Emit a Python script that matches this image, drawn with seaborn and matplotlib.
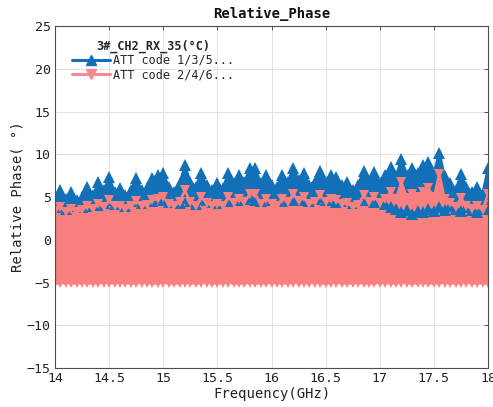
import numpy as np
import pandas as pd
import matplotlib
matplotlib.use("Agg")
import matplotlib.pyplot as plt
import seaborn as sns
from matplotlib.lines import Line2D

# ---------------- data ----------------
freq = [round(14 + 0.05 * k, 2) for k in range(81)]  # 14.00 ... 18.00 GHz

blue_hi = [5.0, 5.8, 4.8, 5.6, 4.6, 5.0, 6.2, 5.2, 6.7, 5.8,
           7.3, 5.6, 6.0, 5.2, 5.8, 7.2, 5.8, 6.0, 7.2, 7.6,
           7.8, 6.2, 5.6, 6.6, 8.7, 6.8, 6.2, 7.8, 6.4, 5.8,
           6.6, 6.0, 7.8, 6.6, 7.6, 6.8, 8.4, 8.4, 6.6, 7.6,
           6.4, 6.2, 7.6, 6.8, 8.4, 7.0, 7.8, 6.4, 6.8, 8.1,
           6.8, 7.6, 7.3, 6.4, 6.7, 5.8, 6.4, 8.1, 6.8, 7.9,
           6.6, 7.6, 8.5, 7.4, 9.5, 7.6, 8.4, 7.8, 8.7, 9.1,
           7.8, 10.2, 7.4, 6.6, 5.8, 7.7, 6.2, 5.6, 6.2, 5.4,
           8.4]

blue_lo = [3.8, 4.0, 3.6, 3.9, 4.2, 3.8, 4.0, 4.4, 4.1, 4.3,
           4.6, 4.2, 4.4, 4.0, 4.5, 4.6, 4.3, 4.8, 4.5, 4.9,
           4.6, 4.4, 4.7, 4.3, 4.9, 4.5, 4.2, 4.8, 4.6, 4.4,
           4.3, 4.7, 4.5, 4.9, 4.6, 4.8, 5.0, 4.7, 4.5, 4.9,
           4.6, 4.8, 4.5, 5.0, 4.7, 4.9, 4.6, 4.5, 4.8, 5.0,
           4.7, 4.6, 4.4, 4.8, 4.5, 4.3, 4.6, 4.9, 4.7, 4.4,
           4.6, 4.2, 3.8, 3.6, 3.2, 3.5, 3.0, 3.4, 3.2, 3.6,
           3.4, 3.8, 3.5, 4.0, 3.6, 3.4, 3.8, 3.5, 3.2, 3.6,
           3.8]

pink_hi = [3.4, 3.8, 3.2, 3.6, 3.3, 3.5, 4.0, 3.6, 4.2, 3.8,
           4.6, 3.9, 4.0, 3.6, 3.9, 4.5, 4.0, 4.1, 4.6, 4.8,
           5.0, 4.2, 3.9, 4.4, 5.8, 4.4, 4.0, 5.0, 4.3, 4.0,
           4.2, 4.0, 5.0, 4.3, 4.8, 4.4, 5.4, 5.4, 4.2, 4.8,
           4.2, 4.0, 4.8, 4.4, 5.4, 4.5, 5.0, 4.2, 4.4, 5.2,
           4.4, 4.8, 4.6, 4.2, 4.3, 3.8, 4.1, 5.2, 4.4, 5.0,
           4.3, 4.8, 5.6, 4.8, 6.8, 4.9, 5.4, 5.0, 5.6, 6.0,
           5.0, 7.7, 4.8, 4.3, 3.8, 4.9, 4.0, 3.6, 4.0, 3.5,
           5.4]

pink_lo = [-5.1, -5.1, -5.0, -5.1, -5.1, -5.0, -5.1, -5.1, -5.1, -5.0,
           -5.1, -5.1, -5.0, -5.1, -5.1, -5.1, -5.0, -5.1, -5.1, -5.1,
           -5.0, -5.1, -5.1, -5.1, -5.0, -5.1, -5.1, -5.1, -5.0, -5.1,
           -5.1, -5.1, -5.0, -5.1, -5.1, -5.1, -5.0, -5.1, -5.1, -5.1,
           -5.0, -5.1, -5.1, -5.1, -5.0, -5.1, -5.1, -5.1, -5.0, -5.1,
           -5.1, -5.1, -5.0, -5.1, -5.1, -5.1, -5.0, -5.1, -5.1, -5.1,
           -5.0, -5.1, -5.1, -5.1, -5.0, -5.1, -5.1, -5.1, -5.0, -5.1,
           -5.1, -5.1, -5.0, -5.1, -5.1, -5.1, -5.0, -5.1, -5.1, -5.1,
           -5.1]

legend_title = "3#_CH2_RX_35(°C)"
series_labels = ["ATT code 1/3/5...", "ATT code 2/4/6..."]
xticks = [14, 14.5, 15, 15.5, 16, 16.5, 17, 17.5, 18]
xtick_labels = ["14", "14.5", "15", "15.5", "16", "16.5", "17", "17.5", "18"]
yticks = [-15, -10, -5, 0, 5, 10, 15, 20, 25]

# ---------------- tables ----------------
blue_df = pd.DataFrame({
    "freq": freq * 2,
    "phase": blue_hi + blue_lo,
    "unit": ["hi"] * len(freq) + ["lo"] * len(freq),
})
pink_df = pd.DataFrame({
    "freq": freq * 2,
    "phase": pink_hi + pink_lo,
    "unit": ["hi"] * len(freq) + ["lo"] * len(freq),
})

# ---------------- styling ----------------
sns.set_style("white")
plt.rcParams["font.family"] = ["DejaVu Sans Mono", "DejaVu Sans"]

BLUE = "#1170B8"
PINK = "#FA8080"
PINK_LEG = "#F48A8E"

fig = plt.figure(figsize=(4.93, 4.07), dpi=100)
ax = fig.add_axes([0.1116, 0.0958, 0.8783, 0.8403])

# blue group: band + lines
sns.lineplot(data=blue_df, x="freq", y="phase", errorbar=("pi", 100),
             err_kws={"alpha": 1, "linewidth": 0}, color=BLUE, linewidth=0,
             ax=ax, legend=False)
sns.lineplot(data=blue_df, x="freq", y="phase", units="unit", estimator=None,
             color=BLUE, linewidth=1.8, marker="^", markersize=8,
             markeredgewidth=0, ax=ax, legend=False)

# pink group: band + lines
sns.lineplot(data=pink_df, x="freq", y="phase", errorbar=("pi", 100),
             err_kws={"alpha": 1, "linewidth": 0}, color=PINK, linewidth=0,
             ax=ax, legend=False)
sns.lineplot(data=pink_df, x="freq", y="phase", units="unit", estimator=None,
             color=PINK, linewidth=1.8, marker="v", markersize=7.5,
             markeredgewidth=0, ax=ax, legend=False)

ax.set_xlim(14, 18)
ax.set_ylim(-15, 25)
ax.set_xticks(xticks)
ax.set_xticklabels(xtick_labels)
ax.set_yticks(yticks)
ax.grid(True, color="#E3E3E3", linewidth=0.7)
ax.set_axisbelow(True)
for s in ax.spines.values():
    s.set_color("#4D4D4D")
    s.set_linewidth(0.8)
ax.tick_params(direction="in", length=3, width=0.7, color="#4D4D4D",
               labelsize=9.5, labelcolor="#222222", top=True, right=True,
               pad=3)

ax.set_xlabel("Frequency(GHz)", fontsize=10, color="#222222", labelpad=1)
ax.set_ylabel("Relative Phase( °)", fontsize=10, color="#222222", labelpad=2)
ax.set_title("Relative_Phase", fontsize=10, fontweight="bold", color="#111111", pad=6)

handles = [
    Line2D([], [], color=BLUE, linewidth=2.2, marker="^", markersize=7),
    Line2D([], [], color=PINK_LEG, linewidth=2.2, marker="v", markersize=7),
]
leg = ax.legend(handles, series_labels, title=legend_title, loc="upper left",
                bbox_to_anchor=(0.02, 0.985), frameon=False, fontsize=8.5,
                title_fontsize=8.5, handlelength=3.2, handletextpad=0.3,
                labelspacing=0.1, borderpad=0.2)
leg.get_title().set_fontweight("bold")

fig.savefig("out.png", dpi=100)
